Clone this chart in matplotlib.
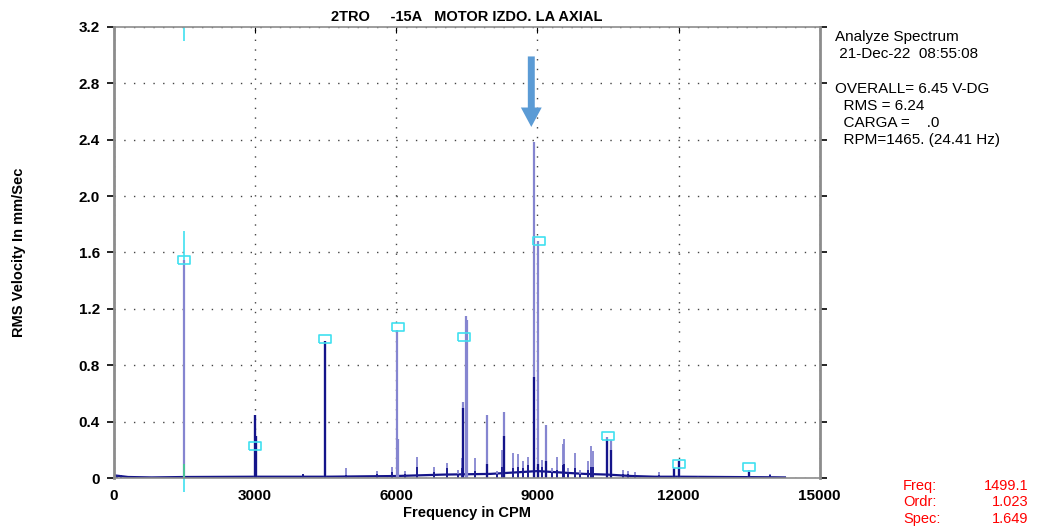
import numpy as np
import matplotlib.pyplot as plt

plt.rcParams['font.family'] = ['Liberation Sans', 'DejaVu Sans']

# main spectral lines: frequency (CPM), full height (light), dark part height
peak_f = [1488, 2996, 3010, 4484, 6010, 6030, 7420, 7480, 7500, 7925, 8290, 8930, 9010,
          9180, 10480, 10560, 11900, 12010, 13490]
peak_a = [1.55, 0.45, 0.30, 0.97, 1.05, 0.28, 0.54, 1.15, 1.12, 0.45, 0.47, 2.38, 1.68,
          0.38, 0.29, 0.27, 0.07, 0.12, 0.06]
peak_dark = [0.0, 0.45, 0.30, 0.97, 0.0, 0.0, 0.50, 0.0, 0.0, 0.10, 0.30, 0.72, 0.10,
             0.12, 0.28, 0.20, 0.07, 0.12, 0.04]

# smaller lines of the spectrum
small_f = [60, 150, 4016, 4930, 5590, 5900, 6180, 6440, 6800, 7075, 7310, 7390, 7670,
           8140, 8245, 8480, 8590, 8690, 8800, 9095, 9310, 9410, 9540, 9560, 9650,
           9800, 9900, 10070, 10130, 10180, 10820, 10920, 11070, 11580, 12410, 13940]
small_a = [0.025, 0.02, 0.03, 0.07, 0.05, 0.08, 0.05, 0.15, 0.08, 0.11, 0.06, 0.14, 0.14,
           0.05, 0.20, 0.18, 0.17, 0.12, 0.15, 0.13, 0.07, 0.15, 0.24, 0.28, 0.07,
           0.18, 0.06, 0.12, 0.23, 0.19, 0.06, 0.05, 0.04, 0.04, 0.015, 0.03]
small_dark = [0.025, 0.02, 0.03, 0.02, 0.03, 0.04, 0.03, 0.08, 0.04, 0.07, 0.03, 0.07, 0.05,
              0.03, 0.08, 0.07, 0.08, 0.07, 0.09, 0.08, 0.04, 0.06, 0.09, 0.10, 0.04,
              0.07, 0.03, 0.06, 0.08, 0.08, 0.03, 0.03, 0.02, 0.02, 0.015, 0.02]

# noise floor
floor_f = [0, 300, 800, 1500, 3000, 4500, 6000, 6500, 7000, 8000, 8500, 9000, 9500,
           10000, 10500, 11000, 11500, 12000, 13000, 14000, 14260]
floor_a = [0.02, 0.008, 0.005, 0.008, 0.01, 0.01, 0.015, 0.02, 0.025, 0.03, 0.04, 0.05,
           0.04, 0.03, 0.025, 0.015, 0.01, 0.01, 0.008, 0.006, 0.005]

# markers
mark_f = [1499, 2996, 4484, 6030, 7430, 9030, 10490, 12000, 13500]
mark_a = [1.55, 0.23, 0.99, 1.07, 1.00, 1.68, 0.30, 0.10, 0.08]

cursor_f = 1499

yticks = [0, 0.4, 0.8, 1.2, 1.6, 2.0, 2.4, 2.8, 3.2]
ytick_labels = ['0', '0.4', '0.8', '1.2', '1.6', '2.0', '2.4', '2.8', '3.2']
xticks = [0, 3000, 6000, 9000, 12000, 15000]

info_lines = ['Analyze Spectrum', ' 21-Dec-22  08:55:08', '',
              'OVERALL= 6.45 V-DG', '  RMS = 6.24', '  CARGA =    .0',
              '  RPM=1465. (24.41 Hz)']
cursor_labels = ['Freq:', 'Ordr:', 'Spec:']
cursor_values = ['1499.1', '1.023', '1.649']

navy = '#14148a'
light = '#8585d0'
cyan = '#40e0f0'

fig = plt.figure(figsize=(10.55, 5.26), dpi=100)
ax = fig.add_axes([0.108, 0.091, 0.669, 0.858])

ax.plot(floor_f, floor_a, color=navy, lw=1.6)
ax.vlines(small_f, 0, small_a, color=light, lw=1.3)
ax.vlines(small_f, 0, small_dark, color=navy, lw=1.3)
ax.vlines(peak_f, 0, peak_a, color=light, lw=1.6)
ax.vlines(peak_f, 0, peak_dark, color=navy, lw=1.6)

# cursor at 1X
ax.vlines([cursor_f, cursor_f], [3.1, 1.55], [3.2, 1.75], color=cyan, lw=1.2)
ax.vlines([cursor_f], [-0.1], [0], color=cyan, lw=1.2, clip_on=False)
ax.vlines([cursor_f], [0], [0.1], color='#40d090', lw=1.2)

rect = [(-1.4, -1), (1.4, -1), (1.4, 1), (-1.4, 1), (-1.4, -1)]
ax.plot(mark_f, mark_a, ls='none', marker=rect, mfc='none', mec=cyan,
        mew=1.2, markersize=8, zorder=4)

ax.annotate('', xy=(8870, 2.49), xytext=(8870, 2.99),
            arrowprops=dict(width=5, headwidth=15, headlength=14,
                            color='#5b9bd5', lw=0, shrink=0), zorder=6)

ax.set_xlim(0, 15000)
ax.set_ylim(0, 3.2)
ax.set_xticks(xticks)
ax.set_xticklabels([str(t) for t in xticks], fontweight='bold', fontsize=11)
ax.set_yticks(yticks)
ax.set_yticklabels(ytick_labels, fontweight='bold', fontsize=11)
ax.tick_params(axis='y', direction='out', length=5, width=1.2, left=True, right=True, pad=5)
ax.tick_params(axis='x', direction='in', length=4, top=True, bottom=False, pad=8)
ax.grid(True, color='#444444', linestyle=(0, (1, 6)), lw=1)

for side in ['left', 'right']:
    ax.spines[side].set_color('#8c8c8c')
    ax.spines[side].set_linewidth(2)
for side in ['top', 'bottom']:
    ax.spines[side].set_color('#8c8c8c')
    ax.spines[side].set_linewidth(1.2)

ax.set_title('2TRO     -15A   MOTOR IZDO. LA AXIAL', fontweight='bold', fontsize=10.5, pad=4)
ax.set_xlabel('Frequency in CPM', fontweight='bold', fontsize=10.5, labelpad=2)
ax.set_ylabel('RMS Velocity In mm/Sec', fontweight='bold', fontsize=10.5, labelpad=38)

for i, line in enumerate(info_lines):
    fig.text(0.791, 1 - (37 + i * 17.2) / 526, line, fontsize=11, va='center', ha='left')

for i, (lab, val) in enumerate(zip(cursor_labels, cursor_values)):
    y = 1 - (486 + i * 16.5) / 526
    fig.text(0.856, y, lab, fontsize=10.5, color='red', va='center', ha='left')
    fig.text(0.975, y, val, fontsize=10.5, color='red', va='center', ha='right')

fig.savefig('out.png', dpi=100)
